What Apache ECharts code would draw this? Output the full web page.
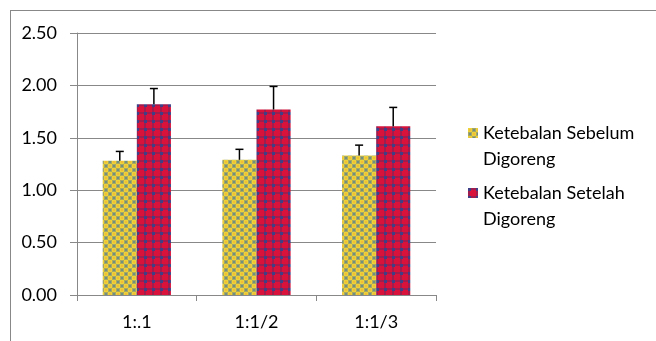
<!DOCTYPE html>
<html><head><meta charset="utf-8">
<script src="https://cdn.jsdelivr.net/npm/echarts@6/dist/echarts.min.js"></script>
<style>html,body{margin:0;padding:0;background:#fff}#c{width:656px;height:341px}</style>
</head><body><div id="c"></div>
<script>
var categories = ['1:.1', '1:1/2', '1:1/3'];
var seriesNames = ['Ketebalan Sebelum Digoreng', 'Ketebalan Setelah Digoreng'];
var legendLines = [['Ketebalan Sebelum', 'Digoreng'], ['Ketebalan Setelah', 'Digoreng']];
var before = [1.28, 1.29, 1.33];
var beforeErr = [0.09, 0.10, 0.10];
var after = [1.82, 1.77, 1.61];
var afterErr = [0.15, 0.22, 0.18];
var yTicks = [0, 0.5, 1.0, 1.5, 2.0, 2.5];

function makeTile(draw){
  var c = document.createElement('canvas'); c.width = 8; c.height = 8;
  var g = c.getContext('2d'); draw(g); return c;
}
var tileA = makeTile(function(g){
  g.fillStyle = '#a8a662'; g.fillRect(0,0,8,8);
  g.fillStyle = '#ead43a'; g.fillRect(0,0,4,4); g.fillRect(4,4,4,4);
  g.fillStyle = '#f4bc36'; g.fillRect(1,1,2,2); g.fillRect(5,5,2,2);
  g.fillStyle = '#6d9280'; g.fillRect(5,1,2,2); g.fillRect(1,5,2,2);
});
var tileB = makeTile(function(g){
  g.fillStyle = '#d8123a'; g.fillRect(0,0,8,8);
  g.fillStyle = '#a01e4e'; g.fillRect(0,0,2,8); g.fillRect(0,0,8,2);
  g.fillStyle = '#3e3f86'; g.fillRect(0,0,3,3);
});
var patA = {image: tileA, repeat: 'repeat'};
var patB = {image: tileB, repeat: 'repeat'};

var GAP = 0.43;
function errRender(vals, errs, idx){
  return function(params, api){
    var i = api.value(0);
    var v = vals[i], e = errs[i];
    var catW = api.size([1,0])[0];
    var bw = catW*(1-GAP)/2;
    var c = api.coord([i, v]);
    var x = c[0] + (idx === 0 ? -bw/2 : bw/2);
    var top = api.coord([i, v+e])[1];
    return {type:'group', children:[
      {type:'line', shape:{x1:x,y1:c[1],x2:x,y2:top}, style:{stroke:'#000',lineWidth:1.5}},
      {type:'line', shape:{x1:x-4,y1:top,x2:x+4,y2:top}, style:{stroke:'#000',lineWidth:1.5}}
    ]};
  };
}

var font = 'Lato';
function legendFor(k, top){
  return {data:[seriesNames[k]], left:468, top:top, padding:0, orient:'vertical', icon:'rect',
    itemWidth:10, itemHeight:10, itemGap:0,
    formatter:function(){return ' \n' + legendLines[k].join('\n');},
    textStyle:{fontFamily:font, fontSize:18, color:'#000', lineHeight:26}};
}
var chart = echarts.init(document.getElementById('c'), null, {renderer:'canvas'});
chart.setOption({
  animation:false,
  backgroundColor:'#fff',
  graphic:[
    {type:'line', shape:{x1:10,y1:10.5,x2:656,y2:10.5}, style:{stroke:'#888',lineWidth:1}},
    {type:'line', shape:{x1:10.5,y1:10,x2:10.5,y2:341}, style:{stroke:'#888',lineWidth:1}}
  ],
  grid:{left:77, right:220, top:33, bottom:46, containLabel:false},
  legend:[legendFor(0, 94), legendFor(1, 154)],
  xAxis:{type:'category', data:categories,
    axisLine:{lineStyle:{color:'#888',width:1}},
    axisTick:{show:true, length:6, lineStyle:{color:'#888'}},
    axisLabel:{fontFamily:font, fontSize:18, color:'#000', margin:18}
  },
  yAxis:{type:'value', min:0, max:2.5, interval:0.5,
    axisLine:{show:true, lineStyle:{color:'#888',width:1}},
    axisTick:{show:true, length:7, lineStyle:{color:'#888'}},
    splitLine:{lineStyle:{color:'#888',width:1}},
    axisLabel:{fontFamily:font, fontSize:18, color:'#000', margin:20,
      formatter:function(v){return v.toFixed(2);}}
  },
  series:[
    {name:seriesNames[0], type:'bar', data:before, barGap:'0%', barCategoryGap:(GAP*100)+'%',
     itemStyle:{color:patA}},
    {name:seriesNames[1], type:'bar', data:after, barGap:'0%', barCategoryGap:(GAP*100)+'%',
     itemStyle:{color:patB}},
    {type:'custom', renderItem:errRender(before, beforeErr, 0), data:before.map(function(v,i){return [i,v];}), z:5},
    {type:'custom', renderItem:errRender(after, afterErr, 1), data:after.map(function(v,i){return [i,v];}), z:5}
  ]
});
</script></body></html>
